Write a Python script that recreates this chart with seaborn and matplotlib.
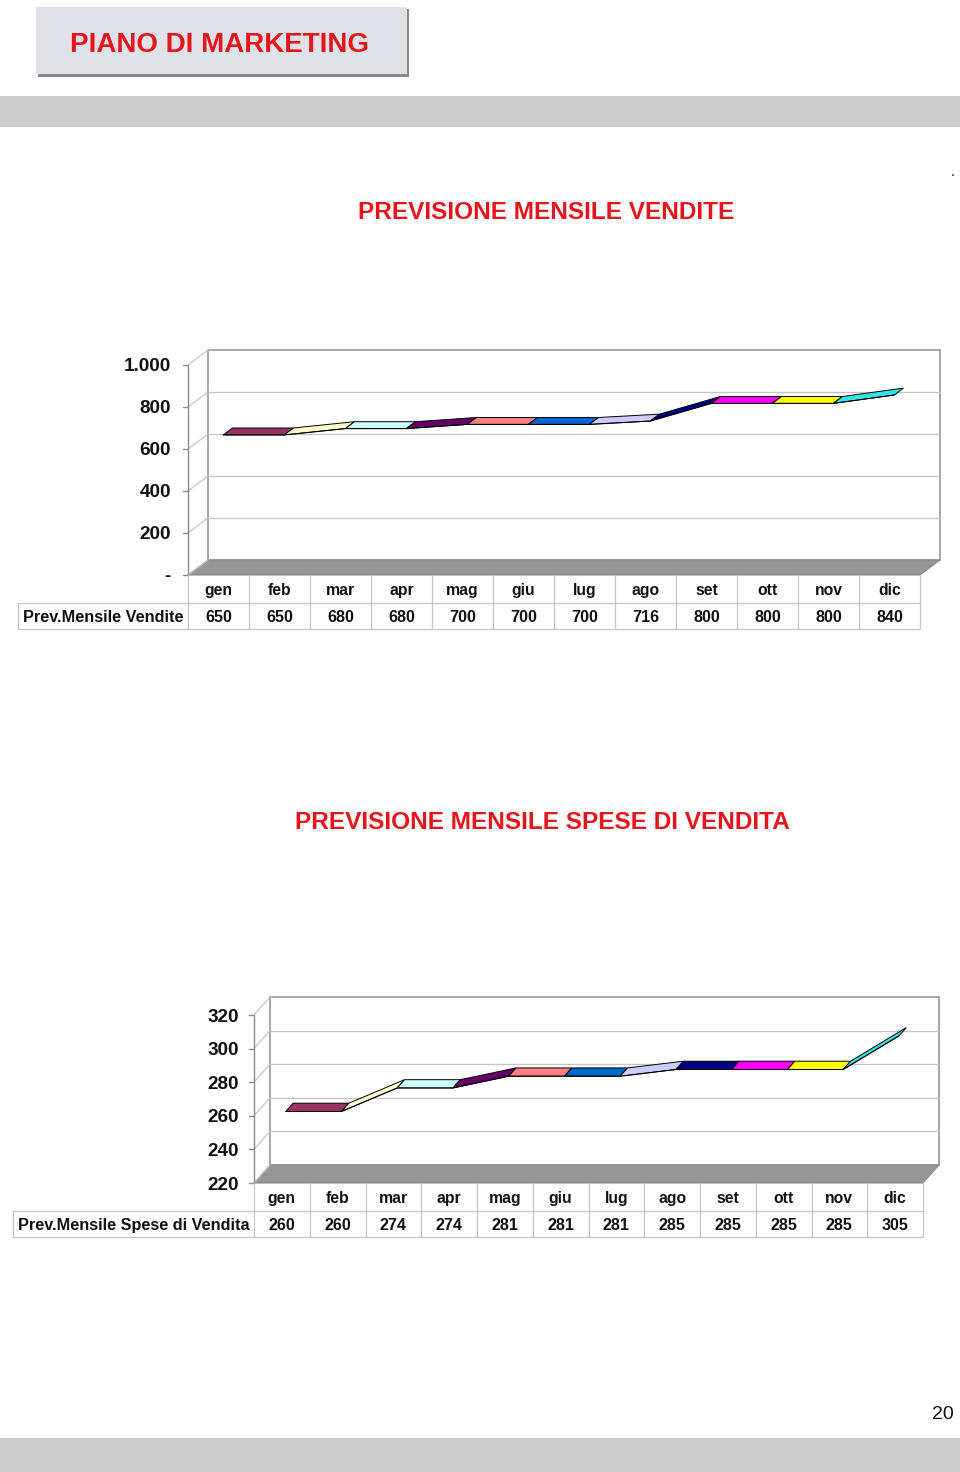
import matplotlib
matplotlib.use("Agg")
import matplotlib.pyplot as plt
import seaborn as sns
from matplotlib.patches import Polygon, Rectangle

# ---------------- data ----------------
months = ["gen", "feb", "mar", "apr", "mag", "giu", "lug", "ago", "set", "ott", "nov", "dic"]
vendite = [650, 650, 680, 680, 700, 700, 700, 716, 800, 800, 800, 840]
spese = [260, 260, 274, 274, 281, 281, 281, 285, 285, 285, 285, 305]
vendite_ticks = [0, 200, 400, 600, 800, 1000]
vendite_tick_labels = ["-", "200", "400", "600", "800", "1.000"]
spese_ticks = [220, 240, 260, 280, 300, 320]
spese_tick_labels = ["220", "240", "260", "280", "300", "320"]
segment_colors = ["#993366", "#FFFFCC", "#CCFFFF", "#660066", "#FF8080", "#0066CC",
                  "#CCCCFF", "#000080", "#FF00FF", "#FFFF00", "#33E6E6"]
title_main = "PIANO DI MARKETING"
title_vendite = "PREVISIONE MENSILE VENDITE"
title_spese = "PREVISIONE MENSILE SPESE DI VENDITA"
row_vendite = "Prev.Mensile Vendite"
row_spese = "Prev.Mensile Spese di Vendita"
page_number = "20"

# ---------------- style ----------------
sns.set_theme(style="white")
plt.rcParams["font.family"] = ["Liberation Sans", "DejaVu Sans"]

W, H = 960, 1472
RED = "#e8141c"
fig = plt.figure(figsize=(W / 100, H / 100), dpi=100)

page = fig.add_axes([0, 0, 1, 1])
page.set_xlim(0, W)
page.set_ylim(H, 0)
page.axis("off")

# header box with shadow
page.add_patch(Rectangle((38, 9), 371, 68, facecolor="#8a8a8a", edgecolor="none"))
page.add_patch(Rectangle((36, 7), 371, 67, facecolor="#e1e1e8", edgecolor="none"))
page.text(220, 52, title_main, color=RED, fontsize=20, fontweight="bold",
          ha="center", va="baseline")
# bands
page.add_patch(Rectangle((0, 96), W, 31, facecolor="#cccccc", edgecolor="none"))
page.add_patch(Rectangle((0, 1438), W, 34, facecolor="#cccccc", edgecolor="none"))
page.text(954, 1419, page_number, fontsize=14, ha="right", va="baseline", color="#111111")
page.text(953, 176, ".", fontsize=10, ha="center", va="baseline", color="#222222")
page.text(546, 219, title_vendite, color=RED, fontsize=17.6, fontweight="bold",
          ha="center", va="baseline")
page.text(542, 829, title_spese, color=RED, fontsize=17.6, fontweight="bold",
          ha="center", va="baseline")


def draw_chart(values, ticks, tick_labels, row_label, g):
    ax = fig.add_axes([0, 0, 1, 1])
    ax.patch.set_alpha(0)
    cw = g["col_w"]
    ppu = g["ppu"]
    ymin = ticks[0]
    ymax = ticks[-1]
    xc0 = g["col_left"] + cw / 2

    def xd(px):
        return (px - xc0) / cw

    def yd(py):
        return ymin + (g["y0"] - py) / ppu

    DX = g["dx"] / cw
    DY = g["dy"] / ppu

    def P(x, v, f):
        return (x + DX * f, v + DY * f)

    n = len(values)
    L, R = -0.5, n - 0.5
    edge = "#a0a0a0"
    grid = "#c4c4c4"

    # back wall
    ax.add_patch(Polygon([P(L, ymin, 1), P(L, ymax, 1), P(R, ymax, 1), P(R, ymin, 1)],
                         closed=True, facecolor="white", edgecolor=edge, lw=1.3))
    for t in ticks[1:-1]:
        (x1, y1), (x2, y2) = P(L, t, 1), P(R, t, 1)
        ax.plot([x1, x2], [y1, y2], color=grid, lw=0.9)
    for t in ticks:
        (x1, y1), (x2, y2) = P(L, t, 0), P(L, t, 1)
        ax.plot([x1, x2], [y1, y2], color=grid, lw=0.9)
    # floor
    ax.add_patch(Polygon([P(L, ymin, 0), P(R, ymin, 0), P(R, ymin, 1), P(L, ymin, 1)],
                         closed=True, facecolor="#969696", edgecolor="#8c8c8c", lw=0.8))
    # front value axis
    ax.plot([L, L], [ymin, ymax], color="#8c8c8c", lw=1)
    tick_len = 5 / cw
    for t, lab in zip(ticks, tick_labels):
        ax.plot([L - tick_len, L], [t, t], color="#8c8c8c", lw=1)
        ax.text(L - g["lab_gap"] / cw, t, lab, ha="right", va="center_baseline",
                fontsize=13.6, fontweight="bold", color="#111111")

    # ribbon
    f0, f1 = 0.24, 0.7
    for k in range(n - 1):
        poly = [P(k, values[k], f0), P(k + 1, values[k + 1], f0),
                P(k + 1, values[k + 1], f1), P(k, values[k], f1)]
        ax.add_patch(Polygon(poly, closed=True, facecolor=segment_colors[k],
                             edgecolor="black", lw=0.7, joinstyle="miter", zorder=3))
    fx = [P(k, v, f0)[0] for k, v in enumerate(values)]
    fy = [P(k, v, f0)[1] for k, v in enumerate(values)]
    sns.lineplot(x=fx, y=fy, ax=ax, color="black", lw=0.7, sort=False,
                 estimator=None, zorder=4)

    # data table
    hh = g["head_h"] / ppu
    rh = g["row_h"] / ppu
    y_top = ymin
    y_mid = ymin - hh
    y_bot = y_mid - rh
    lc = "#c6c6c6"
    xlab = xd(g["label_left"])
    ax.plot([xlab, R], [y_mid, y_mid], color=lc, lw=0.9)
    ax.plot([xlab, R], [y_bot, y_bot], color=lc, lw=0.9)
    ax.plot([xlab, xlab], [y_mid, y_bot], color=lc, lw=0.9)
    for b in range(n + 1):
        ax.plot([b - 0.5, b - 0.5], [y_top, y_bot], color=lc, lw=0.9)
    for i, (m, v) in enumerate(zip(months, values)):
        ax.text(i, (y_top + y_mid) / 2, m, ha="center", va="center_baseline",
                fontsize=11.3, fontweight="bold", color="#111111")
        ax.text(i, (y_mid + y_bot) / 2, str(v), ha="center", va="center_baseline",
                fontsize=11.6, fontweight="bold", color="#111111")
    ax.text((xlab + L) / 2, (y_mid + y_bot) / 2, row_label, ha="center",
            va="center_baseline", fontsize=11.7, fontweight="bold", color="#111111")

    ax.set_xlim(xd(0), xd(W))
    ax.set_ylim(yd(H), yd(0))
    ax.axis("off")
    return ax


draw_chart(vendite, vendite_ticks, vendite_tick_labels, row_vendite,
           dict(col_left=188, col_w=61, y0=575, ppu=0.21, dx=20, dy=15,
                head_h=28, row_h=26, label_left=18, lab_gap=17))
draw_chart(spese, spese_ticks, spese_tick_labels, row_spese,
           dict(col_left=254, col_w=55.75, y0=1183, ppu=1.68, dx=16, dy=18,
                head_h=28, row_h=26, label_left=13, lab_gap=15))

fig.savefig("out.png", dpi=100)
